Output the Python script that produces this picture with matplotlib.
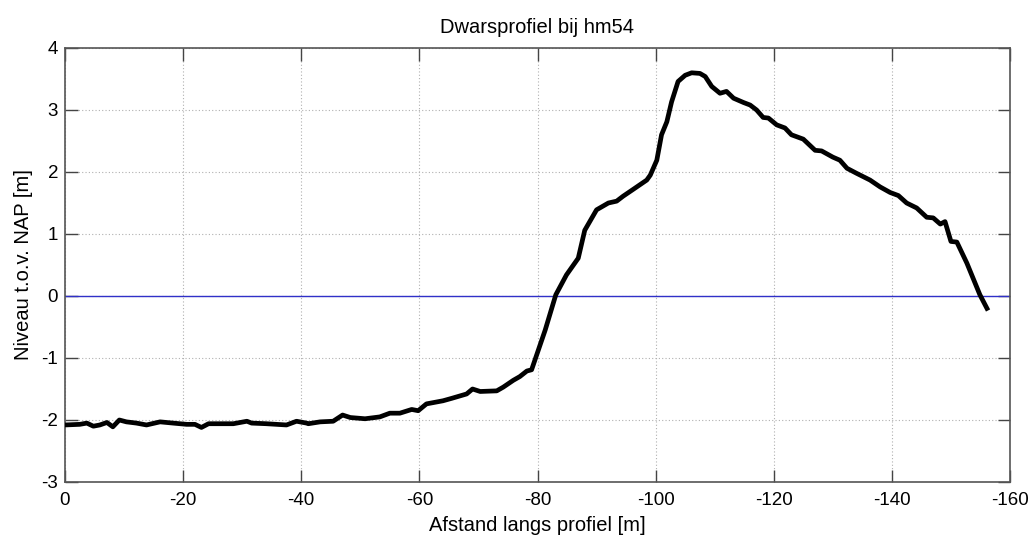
import matplotlib
matplotlib.use("Agg")
import matplotlib.pyplot as plt

plt.rcParams['font.family'] = ['Liberation Sans', 'DejaVu Sans']

title = "Dwarsprofiel bij hm54"
xlabel = "Afstand langs profiel [m]"
ylabel = "Niveau t.o.v. NAP [m]"

afstand = [0, -2.5, -3.7, -4.8, -5.9, -7.1, -8.1, -9.2, -10.4, -12.1, -13.8, -16.1,
           -18.3, -20.6, -22.0, -23.1, -24.3, -28.5, -30.8, -31.6, -34.1, -37.5,
           -39.2, -40.9, -41.2, -43.2, -45.4, -47.0, -48.3, -50.8, -53.3, -55.0,
           -56.7, -58.7, -59.8, -61.2, -64.0, -65.5, -68.0, -69.0, -70.3, -73.1,
           -74.2, -75.9, -77.0, -78.2, -79.0, -81.3, -83.1, -84.9, -86.9, -88.0,
           -90.0, -92.0, -93.4, -94.5, -96.2, -98.5, -99.1, -100.2, -101.0, -101.9,
           -102.7, -103.8, -105.0, -106.1, -107.5, -108.4, -109.5, -110.9, -112.0,
           -113.2, -114.9, -116.0, -117.1, -118.2, -119.1, -120.5, -121.9, -123.0,
           -125.0, -127.0, -128.1, -130.0, -131.2, -132.4, -134.0, -136.3, -138.0,
           -139.7, -141.1, -142.5, -144.2, -145.9, -147.0, -148.2, -149.0, -150.0,
           -151.0, -152.7, -154.9, -156.1]
niveau = [-2.08, -2.07, -2.05, -2.10, -2.08, -2.04, -2.11, -2.00, -2.03, -2.05, -2.08, -2.03,
          -2.05, -2.07, -2.07, -2.12, -2.06, -2.06, -2.02, -2.05, -2.06, -2.08,
          -2.02, -2.05, -2.06, -2.03, -2.02, -1.92, -1.96, -1.98, -1.95, -1.89,
          -1.89, -1.83, -1.85, -1.74, -1.69, -1.65, -1.58, -1.50, -1.54, -1.53,
          -1.47, -1.36, -1.30, -1.21, -1.19, -0.55, 0.02, 0.34, 0.61, 1.06,
          1.39, 1.50, 1.53, 1.61, 1.72, 1.87, 1.95, 2.19, 2.60, 2.81,
          3.13, 3.46, 3.56, 3.60, 3.59, 3.54, 3.38, 3.27, 3.30,
          3.19, 3.12, 3.08, 3.00, 2.88, 2.87, 2.76, 2.71, 2.60,
          2.53, 2.35, 2.34, 2.24, 2.19, 2.06, 1.98, 1.87, 1.76,
          1.67, 1.62, 1.50, 1.42, 1.27, 1.26, 1.16, 1.20, 0.88,
          0.87, 0.53, 0.02, -0.20]

xticks = [0, -20, -40, -60, -80, -100, -120, -140, -160]
yticks = [-3, -2, -1, 0, 1, 2, 3, 4]
ref_level = 0.0

fig = plt.figure(figsize=(10.30, 5.37), dpi=100)
ax = fig.add_axes([65/1030, 55/537, 945/1030, 434/537])

ax.axhline(ref_level, color='#3030c8', lw=1.0, zorder=2)
ax.plot(afstand, niveau, color='black', lw=3.4, solid_joinstyle='round', zorder=3)

ax.set_xlim(0, -160)
ax.set_ylim(-3, 4)
ax.set_xticks(xticks)
ax.set_yticks(yticks)
ax.set_xticklabels([str(t) for t in xticks])
ax.set_yticklabels([str(t) for t in yticks])

ax.grid(True, linestyle=(0, (1, 2)), color='#b0b0b0', lw=0.8)
ax.set_axisbelow(True)
ax.tick_params(direction='in', length=9, width=1, top=True, right=True,
               labelsize=13.5, color='#444444')
ax.tick_params(axis='x', pad=7)
ax.tick_params(axis='y', pad=5)
for s in ax.spines.values():
    s.set_color('#555555')
    s.set_linewidth(1.2)

ax.set_title(title, fontsize=14.5, pad=11)
ax.set_xlabel(xlabel, fontsize=14.5, labelpad=5)
ax.set_ylabel(ylabel, fontsize=14.5, labelpad=6)

fig.savefig("out.png", dpi=100)
